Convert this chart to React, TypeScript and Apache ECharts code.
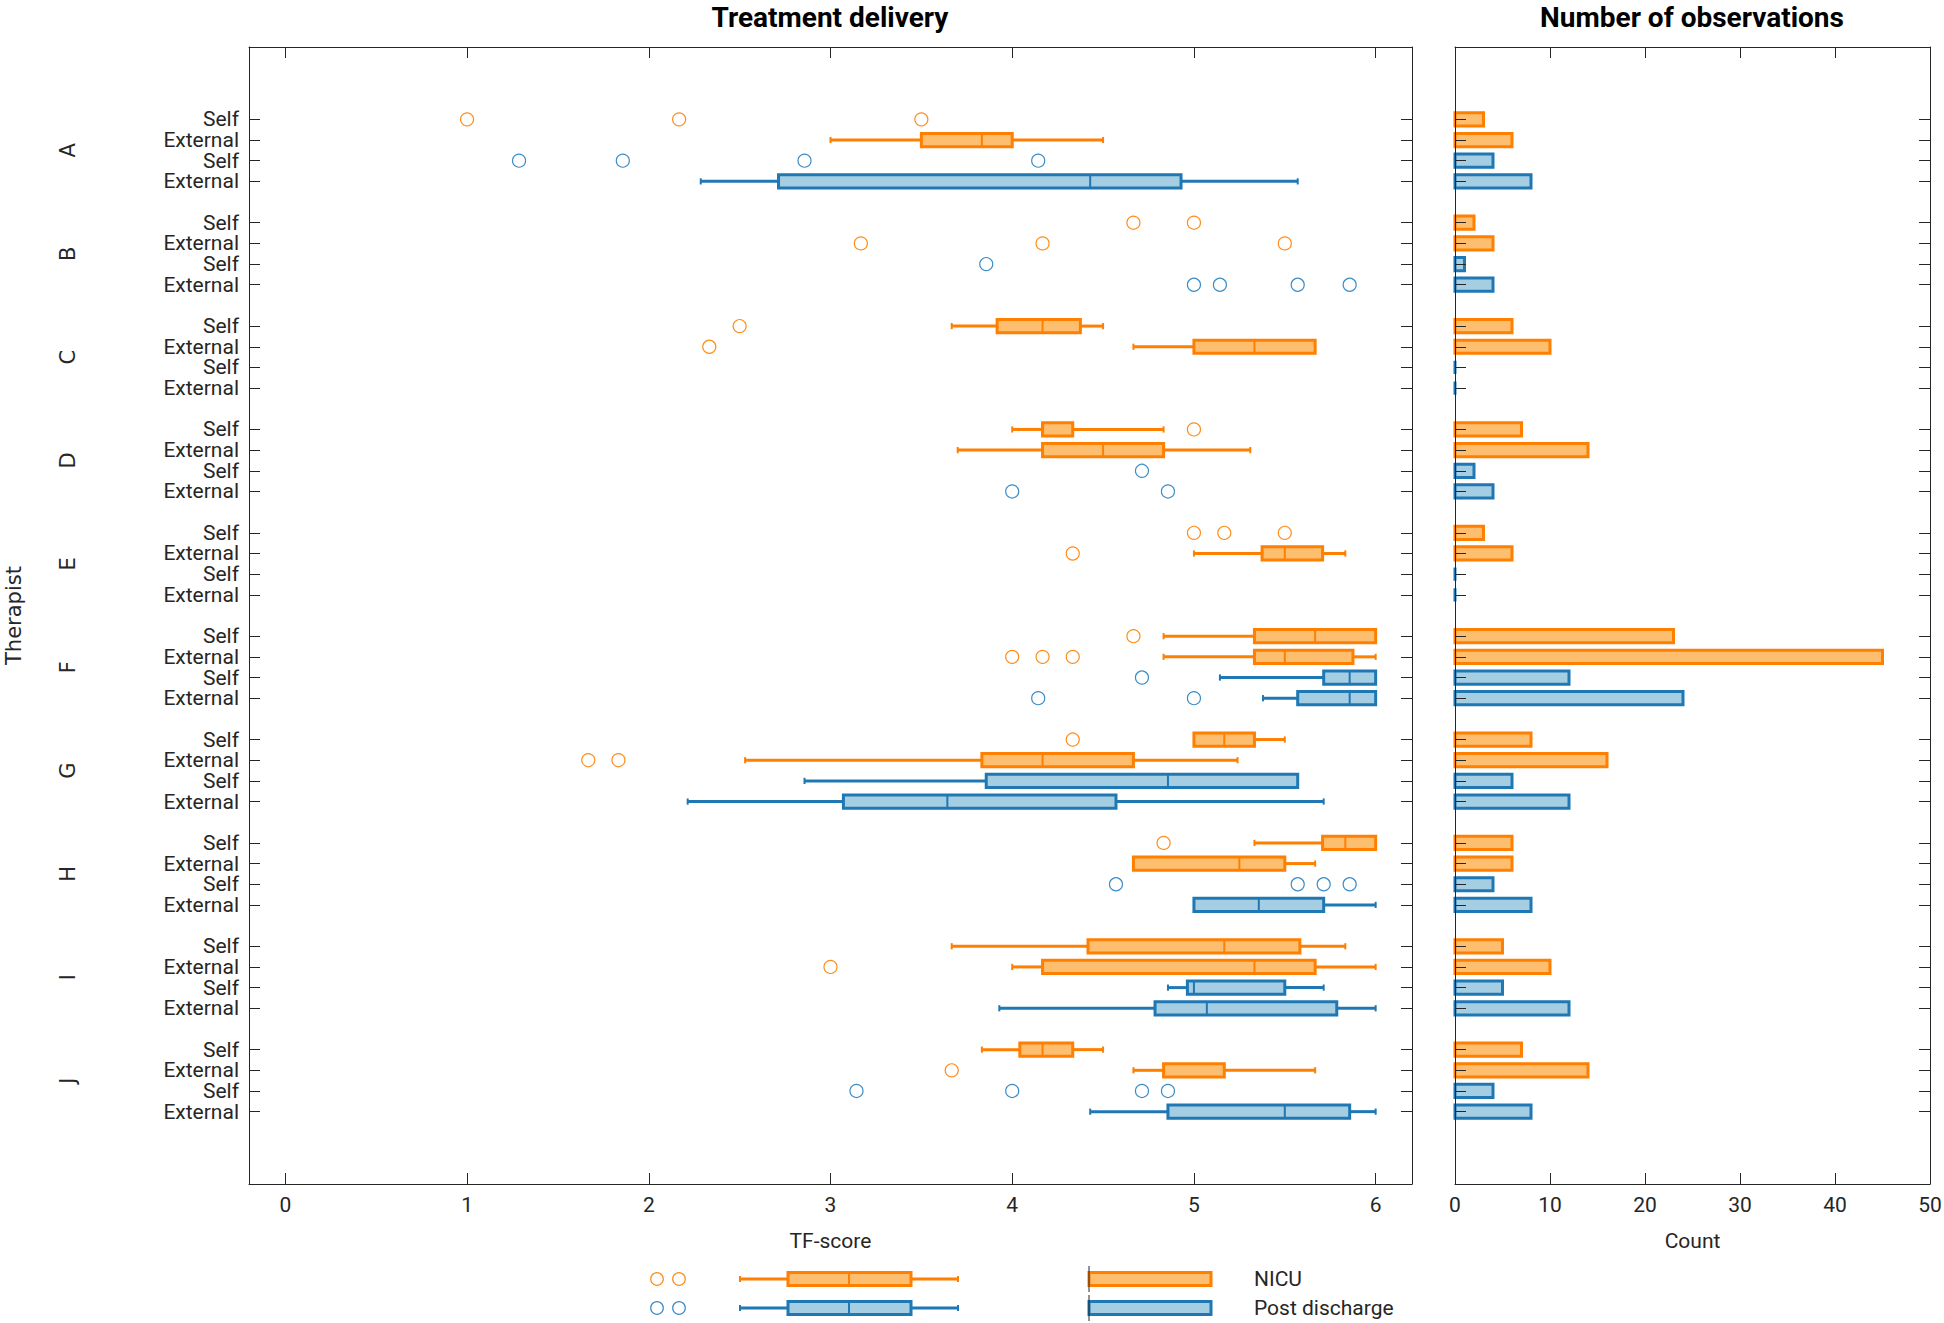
import React, { useEffect, useRef } from "react";
import * as echarts from "echarts";

// ---------------- data ----------------
const therapists = ["A", "B", "C", "D", "E", "F", "G", "H", "I", "J"];
const raterLabels = ["Self", "External"];
const settingNames = ["NICU", "Post discharge"];
const tfTicks = [0, 1, 2, 3, 4, 5, 6];

// box statistics per therapist: [min whisker, q1, median, q3, max whisker] (null = no box)
const nicuSelfBox = [
  null,
  null,
  [3.667, 3.917, 4.167, 4.375, 4.5],
  [4.0, 4.167, 4.167, 4.333, 4.833],
  null,
  [4.833, 5.333, 5.667, 6.0, 6.0],
  [5.0, 5.0, 5.167, 5.333, 5.5],
  [5.333, 5.708, 5.833, 6.0, 6.0],
  [3.667, 4.417, 5.167, 5.583, 5.833],
  [3.833, 4.042, 4.167, 4.333, 4.5],
];
const nicuExtBox = [
  [3.0, 3.5, 3.833, 4.0, 4.5],
  null,
  [4.667, 5.0, 5.333, 5.667, 5.667],
  [3.7, 4.167, 4.5, 4.833, 5.31],
  [5.0, 5.375, 5.5, 5.708, 5.833],
  [4.833, 5.333, 5.5, 5.875, 6.0],
  [2.53, 3.833, 4.167, 4.667, 5.24],
  [4.667, 4.667, 5.25, 5.5, 5.667],
  [4.0, 4.167, 5.333, 5.667, 6.0],
  [4.667, 4.833, 4.833, 5.167, 5.667],
];
const postSelfBox = [
  null,
  null,
  null,
  null,
  null,
  [5.143, 5.714, 5.857, 6.0, 6.0],
  [2.857, 3.857, 4.857, 5.571, 5.571],
  null,
  [4.857, 4.964, 5.0, 5.5, 5.714],
  null,
];
const postExtBox = [
  [2.286, 2.714, 4.429, 4.929, 5.571],
  null,
  null,
  null,
  null,
  [5.38, 5.571, 5.857, 6.0, 6.0],
  [2.214, 3.071, 3.643, 4.571, 5.714],
  [5.0, 5.0, 5.357, 5.714, 6.0],
  [3.929, 4.786, 5.071, 5.786, 6.0],
  [4.429, 4.857, 5.5, 5.857, 6.0],
];

// outliers per therapist
const nicuSelfOut = [[1.0, 2.167, 3.5], [4.667, 5.0], [2.5], [5.0], [5.0, 5.167, 5.5], [4.667], [4.333], [4.833], [], []];
const nicuExtOut = [[], [3.167, 4.167, 5.5], [2.333], [], [4.333], [4.0, 4.167, 4.333], [1.667, 1.833], [], [3.0], [3.667]];
const postSelfOut = [[1.286, 1.857, 2.857, 4.143], [3.857], [], [4.714], [], [4.714], [], [4.571, 5.571, 5.714, 5.857], [], [3.143, 4.0, 4.714, 4.857]];
const postExtOut = [[], [5.0, 5.143, 5.571, 5.857], [], [4.0, 4.857], [], [4.143, 5.0], [], [], [], []];

// number of observations
const nicuSelfN = [3, 2, 6, 7, 3, 23, 8, 6, 5, 7];
const nicuExtN = [6, 4, 10, 14, 6, 45, 16, 6, 10, 14];
const postSelfN = [4, 1, 0, 2, 0, 12, 6, 4, 5, 4];
const postExtN = [8, 4, 0, 4, 0, 24, 12, 8, 12, 8];

// ---------------- style ----------------
const ORANGE = "#ff7f00";
const ORANGE_FILL = "#fdbf6f";
const BLUE = "#1f78b4";
const BLUE_FILL = "#a6cee3";
const ORANGE_OUT = "#ff8c1a";
const BLUE_OUT = "#3a8cc8";
const AXIS = "#262626";
const FONT = "Roboto";
const LW = 3;

const Y_MIN = -3.5;
const Y_MAX = 51.5;

const rowPos = (g: number, r: number) => g * 5 + r;

function boxData(lists: any[][], rows: number[]) {
  const out: any[] = [];
  lists.forEach((list, i) => {
    list.forEach((b, g) => {
      if (b) out.push([rowPos(g, rows[i]), ...b]);
    });
  });
  return out;
}

function outData(lists: number[][][], rows: number[]) {
  const out: any[] = [];
  lists.forEach((list, i) => {
    list.forEach((vals, g) => vals.forEach((v) => out.push([v, rowPos(g, rows[i])])));
  });
  return out;
}

function countData(lists: number[][], rows: number[]) {
  const out: any[] = [];
  lists.forEach((list, i) => list.forEach((n, g) => out.push([n, rowPos(g, rows[i])])));
  return out;
}

function makeBoxRender(edge: string, fill: string) {
  return (params: any, api: any) => {
    const pos = api.value(0);
    const mn = api.value(1), q1 = api.value(2), md = api.value(3), q3 = api.value(4), mx = api.value(5);
    const unit = api.size([0, 1])[1];
    const h = unit * 0.32;
    const cap = unit * 0.15;
    const pMn = api.coord([mn, pos]);
    const pQ1 = api.coord([q1, pos]);
    const pMd = api.coord([md, pos]);
    const pQ3 = api.coord([q3, pos]);
    const pMx = api.coord([mx, pos]);
    const y = pMd[1];
    const ls = { stroke: edge, lineWidth: LW };
    const children: any[] = [];
    if (pQ1[0] - pMn[0] > 0.5) {
      children.push({ type: "line", shape: { x1: pMn[0], y1: y, x2: pQ1[0], y2: y }, style: ls });
      children.push({ type: "line", shape: { x1: pMn[0], y1: y - cap, x2: pMn[0], y2: y + cap }, style: { stroke: edge, lineWidth: 2 } });
    }
    if (pMx[0] - pQ3[0] > 0.5) {
      children.push({ type: "line", shape: { x1: pQ3[0], y1: y, x2: pMx[0], y2: y }, style: ls });
      children.push({ type: "line", shape: { x1: pMx[0], y1: y - cap, x2: pMx[0], y2: y + cap }, style: { stroke: edge, lineWidth: 2 } });
    }
    children.push({
      type: "rect",
      shape: { x: pQ1[0], y: y - h, width: pQ3[0] - pQ1[0], height: 2 * h },
      style: { fill, stroke: edge, lineWidth: LW },
    });
    children.push({ type: "line", shape: { x1: pMd[0], y1: y - h, x2: pMd[0], y2: y + h }, style: { stroke: edge, lineWidth: 2 } });
    return { type: "group", children };
  };
}

function makeBarRender(edge: string, fill: string) {
  return (params: any, api: any) => {
    const n = api.value(0);
    const pos = api.value(1);
    const unit = api.size([0, 1])[1];
    const h = unit * 0.32;
    const p0 = api.coord([0, pos]);
    const p1 = api.coord([n, pos]);
    return {
      type: "rect",
      shape: { x: p0[0], y: p0[1] - h, width: p1[0] - p0[0], height: 2 * h },
      style: { fill, stroke: edge, lineWidth: LW },
    };
  };
}

function legendRow(y: number, edge: string, fill: string, outColor: string, label: string) {
  const els: any[] = [];
  [657, 679].forEach((cx) =>
    els.push({ type: "circle", shape: { cx, cy: y, r: 6.3 }, style: { fill: "none", stroke: outColor, lineWidth: 1.2 } })
  );
  els.push({ type: "line", shape: { x1: 740, y1: y, x2: 788, y2: y }, style: { stroke: edge, lineWidth: LW } });
  els.push({ type: "line", shape: { x1: 911, y1: y, x2: 958, y2: y }, style: { stroke: edge, lineWidth: LW } });
  els.push({ type: "line", shape: { x1: 740, y1: y - 3, x2: 740, y2: y + 3 }, style: { stroke: edge, lineWidth: 2 } });
  els.push({ type: "line", shape: { x1: 958, y1: y - 3, x2: 958, y2: y + 3 }, style: { stroke: edge, lineWidth: 2 } });
  els.push({ type: "rect", shape: { x: 788, y: y - 6.6, width: 123, height: 13.2 }, style: { fill, stroke: edge, lineWidth: LW } });
  els.push({ type: "line", shape: { x1: 849, y1: y - 6.6, x2: 849, y2: y + 6.6 }, style: { stroke: edge, lineWidth: 2 } });
  els.push({ type: "rect", shape: { x: 1089, y: y - 6.6, width: 122, height: 13.2 }, style: { fill, stroke: edge, lineWidth: LW } });
  els.push({ type: "line", shape: { x1: 1089, y1: y - 13, x2: 1089, y2: y + 13 }, style: { stroke: AXIS, lineWidth: 1 } });
  els.push({
    type: "text",
    x: 1254,
    y,
    style: { text: label, fontFamily: FONT, fontSize: 21, fill: AXIS, align: "left", verticalAlign: "middle" },
  });
  return els;
}

export default function App() {
  const ref = useRef<HTMLDivElement>(null);

  useEffect(() => {
    if (!ref.current) return;
    const chart = echarts.init(ref.current, undefined, { renderer: "svg" });

    const rowTicks: number[] = [];
    therapists.forEach((_, g) => [0, 1, 2, 3].forEach((r) => rowTicks.push(rowPos(g, r))));
    // blank labels at the axis ends so that no real row label is dropped by ECharts' min/max overlap check
    const rowLabelValues = [Y_MIN, ...rowTicks, Y_MAX];
    const groupCenters = therapists.map((_, g) => rowPos(g, 1.5));

    const axisLine = { show: true, onZero: false, lineStyle: { color: AXIS, width: 1 } };
    const tick = (vals?: number[]) => ({
      show: true,
      inside: true,
      length: 11,
      lineStyle: { color: AXIS, width: 1 },
      ...(vals ? { customValues: vals } : {}),
    });
    const yRange = { min: Y_MIN, max: Y_MAX, inverse: true };

    const option: any = {
      animation: false,
      backgroundColor: "#ffffff",
      textStyle: { fontFamily: FONT },
      grid: [
        { left: 249, top: 47, width: 1163, height: 1137, outerBoundsMode: "none", containLabel: false },
        { left: 1455, top: 47, width: 475, height: 1137, outerBoundsMode: "none", containLabel: false },
      ],
      xAxis: [
        {
          gridIndex: 0,
          type: "value",
          min: -0.2,
          max: 6.2,
          position: "bottom",
          axisLine,
          axisTick: tick(tfTicks),
          axisLabel: { customValues: tfTicks, fontSize: 21, color: AXIS, margin: 10, fontFamily: FONT, showMinLabel: true, showMaxLabel: true },
          splitLine: { show: false },
          name: "TF-score",
          nameLocation: "middle",
          nameGap: 46,
          nameTextStyle: { fontSize: 21, color: AXIS, fontFamily: FONT },
        },
        {
          gridIndex: 0,
          type: "value",
          min: -0.2,
          max: 6.2,
          position: "top",
          axisLine,
          axisTick: tick(tfTicks),
          axisLabel: { show: false },
          splitLine: { show: false },
        },
        {
          gridIndex: 1,
          type: "value",
          min: 0,
          max: 50,
          interval: 10,
          position: "bottom",
          axisLine,
          axisTick: tick(),
          axisLabel: { fontSize: 21, color: AXIS, margin: 10, fontFamily: FONT, showMinLabel: true, showMaxLabel: true },
          splitLine: { show: false },
          name: "Count",
          nameLocation: "middle",
          nameGap: 46,
          nameTextStyle: { fontSize: 21, color: AXIS, fontFamily: FONT },
        },
        {
          gridIndex: 1,
          type: "value",
          min: 0,
          max: 50,
          interval: 10,
          position: "top",
          axisLine,
          axisTick: tick(),
          axisLabel: { show: false },
          splitLine: { show: false },
        },
      ],
      yAxis: [
        {
          gridIndex: 0,
          type: "value",
          ...yRange,
          position: "left",
          axisLine,
          axisTick: tick(rowTicks),
          axisLabel: {
            customValues: rowLabelValues,
            formatter: (v: number) =>
              v === Y_MIN || v === Y_MAX ? "" : raterLabels[(Math.round(v) % 5) % 2],
            fontSize: 21,
            color: AXIS,
            margin: 10,
            fontFamily: FONT,
            showMinLabel: true,
            showMaxLabel: true,
            hideOverlap: false,
          },
          splitLine: { show: false },
        },
        {
          gridIndex: 0,
          type: "value",
          ...yRange,
          position: "right",
          axisLine,
          axisTick: tick(rowTicks),
          axisLabel: { show: false },
          splitLine: { show: false },
        },
        {
          gridIndex: 0,
          type: "value",
          ...yRange,
          position: "left",
          axisLine: { show: false, onZero: false },
          axisTick: { show: false },
          axisLabel: {
            customValues: groupCenters,
            formatter: (v: number) => therapists[Math.round((v - 1.5) / 5)],
            rotate: 90,
            margin: 171,
            fontSize: 21,
            color: AXIS,
            fontFamily: "DejaVu Sans",
            showMinLabel: true,
            showMaxLabel: true,
          },
          splitLine: { show: false },
          name: "Therapist",
          nameLocation: "middle",
          nameRotate: 90,
          nameGap: 225,
          nameTextStyle: { fontSize: 21, color: AXIS, fontFamily: "DejaVu Sans" },
        },
        {
          gridIndex: 1,
          type: "value",
          ...yRange,
          position: "left",
          z: 10,
          axisLine,
          axisTick: tick(rowTicks),
          axisLabel: { show: false },
          splitLine: { show: false },
        },
        {
          gridIndex: 1,
          type: "value",
          ...yRange,
          position: "right",
          axisLine,
          axisTick: tick(rowTicks),
          axisLabel: { show: false },
          splitLine: { show: false },
        },
      ],
      graphic: [
        {
          type: "text",
          x: 830,
          y: 17,
          style: { text: "Treatment delivery", fontFamily: FONT, fontWeight: "bold", fontSize: 28, fill: "#000", align: "center", verticalAlign: "middle" },
        },
        {
          type: "text",
          x: 1692,
          y: 17,
          style: { text: "Number of observations", fontFamily: FONT, fontWeight: "bold", fontSize: 28, fill: "#000", align: "center", verticalAlign: "middle" },
        },
        ...legendRow(1279, ORANGE, ORANGE_FILL, ORANGE_OUT, settingNames[0]),
        ...legendRow(1308, BLUE, BLUE_FILL, BLUE_OUT, settingNames[1]),
      ],
      series: [
        {
          name: "NICU box",
          type: "custom",
          xAxisIndex: 0,
          yAxisIndex: 0,
          renderItem: makeBoxRender(ORANGE, ORANGE_FILL),
          encode: { x: [1, 2, 3, 4, 5], y: 0 },
          data: boxData([nicuSelfBox, nicuExtBox], [0, 1]),
        },
        {
          name: "Post box",
          type: "custom",
          xAxisIndex: 0,
          yAxisIndex: 0,
          renderItem: makeBoxRender(BLUE, BLUE_FILL),
          encode: { x: [1, 2, 3, 4, 5], y: 0 },
          data: boxData([postSelfBox, postExtBox], [2, 3]),
        },
        {
          name: "NICU outliers",
          type: "scatter",
          xAxisIndex: 0,
          yAxisIndex: 0,
          symbol: "circle",
          symbolSize: 13,
          itemStyle: { color: "rgba(0,0,0,0)", borderColor: ORANGE_OUT, borderWidth: 1.2, opacity: 1 },
          data: outData([nicuSelfOut, nicuExtOut], [0, 1]),
        },
        {
          name: "Post outliers",
          type: "scatter",
          xAxisIndex: 0,
          yAxisIndex: 0,
          symbol: "circle",
          symbolSize: 13,
          itemStyle: { color: "rgba(0,0,0,0)", borderColor: BLUE_OUT, borderWidth: 1.2, opacity: 1 },
          data: outData([postSelfOut, postExtOut], [2, 3]),
        },
        {
          name: "NICU count",
          type: "custom",
          xAxisIndex: 2,
          yAxisIndex: 3,
          renderItem: makeBarRender(ORANGE, ORANGE_FILL),
          encode: { x: 0, y: 1 },
          data: countData([nicuSelfN, nicuExtN], [0, 1]),
        },
        {
          name: "Post count",
          type: "custom",
          xAxisIndex: 2,
          yAxisIndex: 3,
          renderItem: makeBarRender(BLUE, BLUE_FILL),
          encode: { x: 0, y: 1 },
          data: countData([postSelfN, postExtN], [2, 3]),
        },
      ],
    };

    chart.setOption(option);
    return () => chart.dispose();
  }, []);

  return (
    <div
      ref={ref}
      style={{ position: "fixed", left: 0, top: 0, width: 1944, height: 1323, background: "#fff" }}
    />
  );
}
